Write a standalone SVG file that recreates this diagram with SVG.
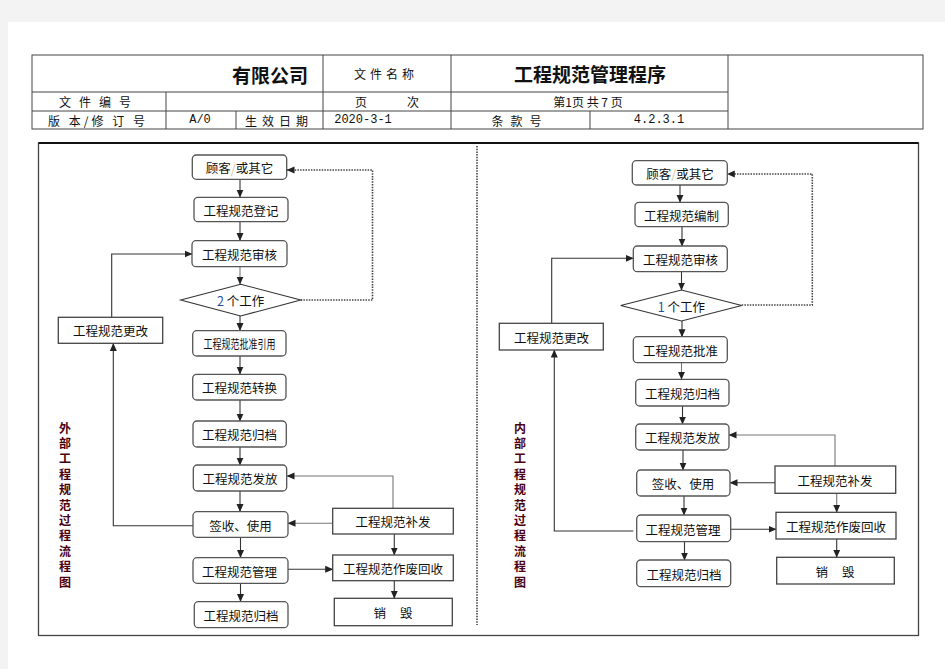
<svg xmlns="http://www.w3.org/2000/svg" width="945" height="669" viewBox="0 0 945 669">
<style>
.hd{font-family:"Noto Sans CJK SC","Liberation Sans",sans-serif;font-size:12px;fill:#111;text-anchor:middle;dominant-baseline:central}
.mono{font-family:"Liberation Mono","Noto Sans CJK SC",monospace;font-size:12px;fill:#111;text-anchor:middle;dominant-baseline:central}
.big{font-family:"Noto Sans CJK SC",sans-serif;font-size:19px;font-weight:bold;fill:#111;text-anchor:middle;dominant-baseline:central}
.tl{fill:none;stroke:#444;stroke-width:1}
.rb{fill:#fff;stroke:#555;stroke-width:1.3}
.sb{fill:#fff;stroke:#444;stroke-width:1.3}
.t{font-family:"Noto Sans CJK SC","Liberation Sans",sans-serif;font-size:12.5px;fill:#111;text-anchor:middle;dominant-baseline:central}
.v{font-family:"Noto Sans CJK SC",sans-serif;font-size:12px;font-weight:bold;fill:#4a0010;text-anchor:middle;dominant-baseline:central}
.c{fill:none;stroke:#333;stroke-width:1.1}
.cg{fill:none;stroke:#777;stroke-width:1.1}
.d{fill:none;stroke:#444;stroke-width:1.6;stroke-dasharray:1.5 1.2}
</style>
<defs>
<marker id="ah" viewBox="0 0 8 8" refX="7.5" refY="4" markerWidth="8" markerHeight="8" markerUnits="userSpaceOnUse" orient="auto">
<path d="M0,0.5 L8,4 L0,7.5 Z" fill="#222"/>
</marker>
</defs>
<rect x="0" y="0" width="945" height="669" fill="#f3f3f3"/>
<rect x="8" y="22" width="937" height="647" fill="#fff"/>

<g id="header">
<rect x="32" y="55" width="891" height="74" class="tl" stroke-width="1.2"/>
<line x1="32" y1="92" x2="728" y2="92" class="tl"/>
<line x1="32" y1="111" x2="728" y2="111" class="tl"/>
<line x1="323" y1="55" x2="323" y2="129" class="tl"/>
<line x1="451" y1="55" x2="451" y2="129" class="tl"/>
<line x1="728" y1="55" x2="728" y2="129" class="tl"/>
<line x1="166" y1="92" x2="166" y2="129" class="tl"/>
<line x1="236" y1="111" x2="236" y2="129" class="tl"/>
<line x1="590" y1="111" x2="590" y2="129" class="tl"/>
<text class="big" x="270" y="74">有限公司</text>
<text class="hd" x="386" y="73" letter-spacing="4">文件名称</text>
<text class="big" x="590" y="73">工程规范管理程序</text>
<text class="hd" x="99" y="101" letter-spacing="8">文件编号</text>
<text class="hd" x="361" y="101">页</text>
<text class="hd" x="413" y="101">次</text>
<text class="hd" x="588" y="101" xml:space="preserve">第1页 共 7 页</text>
<text class="hd" x="98" y="120" letter-spacing="3">版 本/修 订 号</text>
<text class="mono" x="200" y="120">A/0</text>
<text class="hd" x="279" y="120" letter-spacing="5">生效日期</text>
<text class="mono" x="363" y="120">2020-3-1</text>
<text class="hd" x="520" y="120" letter-spacing="7">条款号</text>
<text class="mono" x="659" y="120">4.2.3.1</text>
</g>

<g id="frame">
<rect x="38.5" y="143" width="880" height="492.5" fill="none" stroke="#444" stroke-width="1.3"/>
<line x1="38.5" y1="143" x2="918.5" y2="143" stroke="#111" stroke-width="2"/>
<line x1="477" y1="146" x2="477" y2="625" class="d" stroke-width="1.3"/>
</g>

<g id="connectors">
<line x1="240" y1="179.5" x2="240" y2="197" class="c" marker-end="url(#ah)"/>
<line x1="240" y1="222" x2="240" y2="240.5" class="c" marker-end="url(#ah)"/>
<line x1="240" y1="267" x2="240" y2="284" class="cg" marker-end="url(#ah)"/>
<line x1="240" y1="316" x2="240" y2="330.5" class="c" marker-end="url(#ah)"/>
<line x1="240" y1="356" x2="240" y2="374" class="c" marker-end="url(#ah)"/>
<line x1="240" y1="400" x2="240" y2="421" class="c" marker-end="url(#ah)"/>
<line x1="240" y1="447" x2="240" y2="465" class="c" marker-end="url(#ah)"/>
<line x1="240" y1="491" x2="240" y2="511.5" class="c" marker-end="url(#ah)"/>
<line x1="240.5" y1="537.5" x2="240.5" y2="557.5" class="c" marker-end="url(#ah)"/>
<line x1="240.5" y1="583.5" x2="240.5" y2="601.5" class="c" marker-end="url(#ah)"/>
<polyline points="300.7,300 372.5,300 372.5,170 287,170" class="d" marker-end="url(#ah)"/>
<polyline points="111.7,317.5 111.7,254 192,254" class="c" marker-end="url(#ah)"/>
<polyline points="193,525.7 113.3,525.7 113.3,343.5" class="c" marker-end="url(#ah)"/>
<polyline points="393,508.5 393,476 287,476" class="cg" marker-end="url(#ah)"/>
<line x1="332.7" y1="523.3" x2="288" y2="523.3" class="cg" marker-end="url(#ah)"/>
<line x1="394.3" y1="534" x2="394.3" y2="555" class="c" marker-end="url(#ah)"/>
<line x1="288" y1="569.3" x2="332.7" y2="569.3" class="c" marker-end="url(#ah)"/>
<line x1="394.3" y1="580.7" x2="394.3" y2="598.3" class="c" marker-end="url(#ah)"/>
<line x1="680" y1="185" x2="680" y2="202.3" class="c" marker-end="url(#ah)"/>
<line x1="682" y1="226.7" x2="682" y2="246" class="c" marker-end="url(#ah)"/>
<line x1="681.5" y1="271.7" x2="681.5" y2="290" class="c" marker-end="url(#ah)"/>
<line x1="682" y1="321" x2="682" y2="336.7" class="c" marker-end="url(#ah)"/>
<line x1="681.5" y1="362.7" x2="681.5" y2="379.3" class="cg" marker-end="url(#ah)"/>
<line x1="682.5" y1="406" x2="682.5" y2="424" class="c" marker-end="url(#ah)"/>
<line x1="683" y1="450" x2="683" y2="470" class="c" marker-end="url(#ah)"/>
<line x1="684" y1="496" x2="684" y2="515" class="c" marker-end="url(#ah)"/>
<line x1="684.5" y1="541.7" x2="684.5" y2="560" class="c" marker-end="url(#ah)"/>
<polyline points="741.7,305 812.3,305 812.3,174 727.3,174" class="d" marker-end="url(#ah)"/>
<polyline points="551.7,323.3 551.7,258.3 633.3,258.3" class="c" marker-end="url(#ah)"/>
<polyline points="633.3,531 554.3,531 554.3,350" class="c" marker-end="url(#ah)"/>
<polyline points="835,466 835,435 729,435" class="cg" marker-end="url(#ah)"/>
<line x1="775" y1="482.7" x2="730" y2="482.7" class="c" marker-end="url(#ah)"/>
<line x1="836.7" y1="493.3" x2="836.7" y2="512.3" class="cg" marker-end="url(#ah)"/>
<line x1="730.7" y1="529.3" x2="776" y2="529.3" class="c" marker-end="url(#ah)"/>
<line x1="836.7" y1="539" x2="836.7" y2="557.3" class="c" marker-end="url(#ah)"/>
</g>

<g id="L_customer"><rect class="rb" x="192.3" y="155" width="94.4" height="24.3" rx="4"/><text class="t" x="239.5" y="167.5">顾客<tspan fill="#d8c0a0">/</tspan>或其它</text></g>
<g id="L_register"><rect class="rb" x="194" y="197.3" width="94" height="24.4" rx="4"/><text class="t" x="241" y="210">工程规范登记</text></g>
<g id="L_review"><rect class="rb" x="192" y="240.7" width="95" height="26" rx="4"/><text class="t" x="239.5" y="254">工程规范审核</text></g>
<g id="L_decision"><polygon points="180.7,300 240.7,284.3 300.7,300 240.7,316" fill="#fff" stroke="#333" stroke-width="1.1"/><text class="t" x="240.7" y="300"><tspan fill="#1d4f9a">2</tspan> 个工作</text></g>
<g id="L_change"><rect class="sb" x="58.3" y="317.3" width="104.4" height="26"/><text class="t" x="110.5" y="330.5">工程规范更改</text></g>
<g id="L_approve"><rect class="rb" x="192.7" y="330.7" width="93.3" height="25.3" rx="4"/><text class="t" x="239.5" y="343.5" font-size="11" fill="#444" textLength="72" lengthAdjust="spacingAndGlyphs">工程规范批准引用</text></g>
<g id="L_convert"><rect class="rb" x="192.7" y="374.3" width="93.3" height="25.7" rx="4"/><text class="t" x="239.5" y="387.5">工程规范转换</text></g>
<g id="L_archive1"><rect class="rb" x="193" y="421" width="93.3" height="26" rx="4"/><text class="t" x="239.5" y="434.5">工程规范归档</text></g>
<g id="L_issue"><rect class="rb" x="193.3" y="465" width="93.4" height="26" rx="4"/><text class="t" x="240" y="478.5">工程规范发放</text></g>
<g id="L_sign"><rect class="rb" x="193" y="511.7" width="95" height="25.6" rx="4"/><text class="t" x="240.5" y="525">签收、使用</text></g>
<g id="L_manage"><rect class="rb" x="193" y="557.7" width="95" height="25.6" rx="4"/><text class="t" x="239.5" y="571.5">工程规范管理</text></g>
<g id="L_archive2"><rect class="rb" x="194.3" y="601.7" width="93.7" height="26" rx="4"/><text class="t" x="241" y="615.5">工程规范归档</text></g>
<g id="L_reissue"><rect class="sb" x="332.7" y="508.3" width="120.6" height="25.7"/><text class="t" x="393" y="521.5">工程规范补发</text></g>
<g id="L_void"><rect class="sb" x="332.7" y="555" width="120.6" height="25.7"/><text class="t" x="393" y="568">工程规范作废回收</text></g>
<g id="L_destroy"><rect class="sb" x="334.3" y="598.3" width="118" height="27.4"/><text class="t" x="393" y="612" xml:space="preserve">销     毁</text></g>
<g id="L_title">
<text class="v" x="65" y="427">外</text><text class="v" x="65" y="442.4">部</text><text class="v" x="65" y="457.8">工</text><text class="v" x="65" y="473.2">程</text><text class="v" x="65" y="488.6">规</text><text class="v" x="65" y="504">范</text><text class="v" x="65" y="519.4">过</text><text class="v" x="65" y="534.8">程</text><text class="v" x="65" y="550.2">流</text><text class="v" x="65" y="565.6">程</text><text class="v" x="65" y="581">图</text>
</g>

<g id="R_customer"><rect class="rb" x="632.3" y="160.7" width="95" height="24.3" rx="4"/><text class="t" x="680" y="173">顾客<tspan fill="#d8c0a0">/</tspan>或其它</text></g>
<g id="R_compile"><rect class="rb" x="635" y="202.3" width="93.3" height="24.4" rx="4"/><text class="t" x="681.5" y="215">工程规范编制</text></g>
<g id="R_review"><rect class="rb" x="633.3" y="246" width="94" height="25.7" rx="4"/><text class="t" x="680.5" y="259">工程规范审核</text></g>
<g id="R_decision"><polygon points="620.7,305.5 681.5,290 741.7,305.5 681.5,321" fill="#fff" stroke="#333" stroke-width="1.1"/><text class="t" x="681.5" y="306"><tspan fill="#1d4f9a">1</tspan> 个工作</text></g>
<g id="R_change"><rect class="sb" x="499.3" y="323.3" width="104" height="26.7"/><text class="t" x="551.5" y="337">工程规范更改</text></g>
<g id="R_approve"><rect class="rb" x="633.3" y="336.7" width="94" height="26" rx="4"/><text class="t" x="680.5" y="350">工程规范批准</text></g>
<g id="R_archive1"><rect class="rb" x="635.7" y="379.3" width="93.3" height="26.7" rx="4"/><text class="t" x="682.5" y="393">工程规范归档</text></g>
<g id="R_issue"><rect class="rb" x="635.7" y="424" width="93.3" height="26" rx="4"/><text class="t" x="682.5" y="437.5">工程规范发放</text></g>
<g id="R_sign"><rect class="rb" x="636.7" y="470" width="93.3" height="26" rx="4"/><text class="t" x="683" y="483.5">签收、使用</text></g>
<g id="R_manage"><rect class="rb" x="636.7" y="515" width="94" height="26.7" rx="4"/><text class="t" x="683" y="529">工程规范管理</text></g>
<g id="R_archive2"><rect class="rb" x="636.7" y="560" width="94" height="26.7" rx="4"/><text class="t" x="684" y="574">工程规范归档</text></g>
<g id="R_reissue"><rect class="sb" x="775" y="466" width="120.7" height="27.3"/><text class="t" x="835" y="480">工程规范补发</text></g>
<g id="R_void"><rect class="sb" x="776" y="512.3" width="120" height="26.7"/><text class="t" x="836" y="526">工程规范作废回收</text></g>
<g id="R_destroy"><rect class="sb" x="776.7" y="557.3" width="117.6" height="26.7"/><text class="t" x="835" y="571" xml:space="preserve">销     毁</text></g>
<g id="R_title">
<text class="v" x="520" y="427">内</text><text class="v" x="520" y="442.4">部</text><text class="v" x="520" y="457.8">工</text><text class="v" x="520" y="473.2">程</text><text class="v" x="520" y="488.6">规</text><text class="v" x="520" y="504">范</text><text class="v" x="520" y="519.4">过</text><text class="v" x="520" y="534.8">程</text><text class="v" x="520" y="550.2">流</text><text class="v" x="520" y="565.6">程</text><text class="v" x="520" y="581">图</text>
</g>
</svg>
